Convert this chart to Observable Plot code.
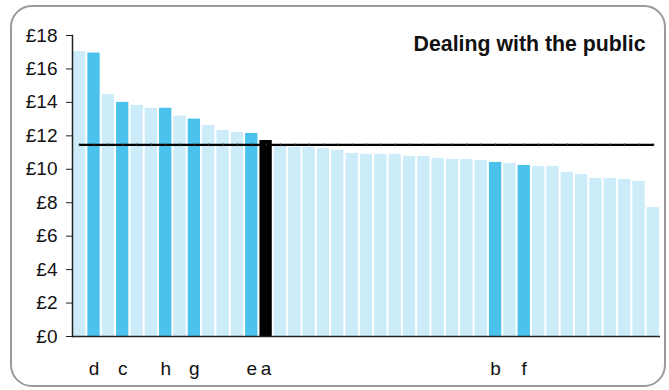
<!DOCTYPE html>
<html>
<head>
<meta charset="utf-8">
<script src="https://cdn.jsdelivr.net/npm/d3@7"></script>
<script src="https://cdn.jsdelivr.net/npm/@observablehq/plot@0.6"></script>
<style>
  html, body { margin: 0; padding: 0; background: #fff; }
  #wrap { position: relative; width: 669px; height: 390px; overflow: hidden; font-family: "Liberation Sans", Arial, sans-serif; }
  #border { position: absolute; left: 10px; top: 5px; width: 656px; height: 382px; border: 2px solid #9a9a9a; border-radius: 22px; box-sizing: border-box; pointer-events: none; }
</style>
</head>
<body>
<div id="wrap"><div id="border"></div></div>
<script>
const title = "Dealing with the public";
const values = [17.04, 16.95, 14.47, 14.0, 13.82, 13.65, 13.65, 13.18, 13.0, 12.62,
  12.32, 12.2, 12.14, 11.72, 11.4, 11.32, 11.32, 11.24, 11.12, 10.95,
  10.89, 10.89, 10.89, 10.77, 10.77, 10.65, 10.59, 10.59, 10.53, 10.41,
  10.35, 10.23, 10.17, 10.17, 9.81, 9.69, 9.45, 9.45, 9.39, 9.27, 7.72];
const labels = ["", "d", "", "c", "", "", "h", "", "g", "",
  "", "", "e", "a", "", "", "", "", "", "",
  "", "", "", "", "", "", "", "", "", "b",
  "", "f", "", "", "", "", "", "", "", "", ""];
const average = 11.46;
const yTicks = [0, 2, 4, 6, 8, 10, 12, 14, 16, 18];

const data = values.map((v, i) => ({
  id: i,
  value: v,
  label: labels[i],
  kind: labels[i] === "a" ? "own" : labels[i] ? "named" : "other"
}));
const ids = data.map(d => d.id);

const chart = Plot.plot({
  width: 669,
  height: 390,
  marginLeft: 72,
  marginRight: 9,
  marginTop: 35,
  marginBottom: 54,
  style: { fontFamily: "Liberation Sans, Arial, sans-serif", background: "transparent", overflow: "visible" },
  x: { type: "band", domain: ids, paddingInner: 0.14, paddingOuter: 0.07, round: false, axis: null },
  y: { domain: [0, 18], axis: null },
  color: { domain: ["other", "named", "own"], range: ["#CCECF9", "#4AC2EB", "#000000"] },
  marks: [
    Plot.barY(data, { x: "id", y: "value", fill: "kind" }),
    Plot.line(data, { x: "id", y: () => average, stroke: "#000", strokeWidth: 2.2 }),
    Plot.link(data, { x1: "id", x2: "id", y1: () => average - 0.08, y2: () => average + 0.08, stroke: "#333", strokeWidth: 1 }),
    Plot.ruleY([0], { stroke: "#222", strokeWidth: 1.5 }),
    Plot.frame({ anchor: "left", stroke: "#222", strokeWidth: 1.5 }),
    Plot.axisY({ ticks: yTicks, tickFormat: d => "£" + d, tickSize: 6, tickPadding: 9, fontSize: 19, stroke: "#222", color: "#111", label: null }),
    Plot.text(data.filter(d => d.label), { x: "id", y: () => 0, text: "label", dy: 32, fontSize: 19, fill: "#111" }),
    Plot.text([title], { frameAnchor: "top-right", dx: -15, dy: 9, fontSize: 21.3, fontWeight: "bold", fill: "#111", textAnchor: "end", lineAnchor: "middle" })
  ]
});
document.getElementById("wrap").prepend(chart);
</script>
</body>
</html>
